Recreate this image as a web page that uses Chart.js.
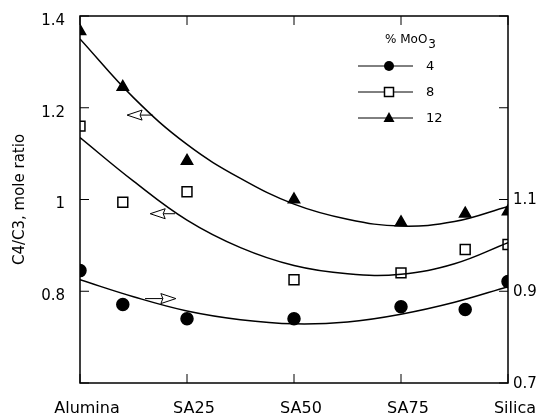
<!DOCTYPE html>
<html>
<head>
<meta charset="utf-8">
<script src="https://cdn.jsdelivr.net/npm/chart.js@4"></script>
<style>
  html, body { margin: 0; padding: 0; background: #fff; }
  #wrap { width: 541px; height: 415px; }
</style>
</head>
<body>
<div id="wrap"><canvas id="myChart" width="541" height="415"></canvas></div>
<script>
// support composition, % silica (Alumina = 0, Silica = 100)
const xPos = [0, 10, 25, 50, 75, 90, 100];
const xTickVals = [0, 25, 50, 75, 100];
const xTickLabels = ['Alumina', 'SA25', 'SA50', 'SA75', 'Silica'];

const leftTicks = [0.6, 0.8, 1.0, 1.2, 1.4];
const leftShown = [0.8, 1.0, 1.2, 1.4];
const rightTicks = [0.7, 0.9, 1.1, 1.3, 1.5];
const rightShown = [0.7, 0.9, 1.1];

// measured C4/C3 ratios (4% on right axis, 8% and 12% on left axis)
const moo4 = [0.945, 0.871, 0.840, 0.840, 0.866, 0.860, 0.921];
const moo8 = [1.160, 0.994, 1.017, 0.825, 0.840, 0.891, 0.902];
const moo12 = [1.367, 1.245, 1.084, 1.000, 0.950, 0.969, 0.974];

// fitted curves at evenly spaced positions
const fitX = [0, 12.5, 25, 37.5, 50, 62.5, 75, 87.5, 100];
const fit4 = [0.925, 0.888, 0.857, 0.838, 0.829, 0.833, 0.850, 0.876, 0.910];
const fit8 = [1.135, 1.040, 0.955, 0.895, 0.856, 0.838, 0.837, 0.860, 0.906];
const fit12 = [1.350, 1.222, 1.120, 1.046, 0.990, 0.957, 0.942, 0.952, 0.985];

const seriesNames = ['4', '8', '12'];

const FONT = 'DejaVu Sans';
const toPts = (xs, arr) => arr.map((v, i) => ({ x: xs[i], y: v }));

const fitLine = (vals, axis) => ({
  data: toPts(fitX, vals),
  yAxisID: axis,
  showLine: true,
  borderColor: '#000',
  borderWidth: 1.5,
  tension: 0.4,
  pointRadius: 0,
  fill: false,
});

const markers = (vals, axis, style, radius, fillColor) => ({
  data: toPts(xPos, vals),
  yAxisID: axis,
  showLine: false,
  pointStyle: style,
  pointRadius: radius,
  pointBackgroundColor: fillColor,
  pointBorderColor: '#000',
  pointBorderWidth: 1.5,
});

// frame and inward ticks
const framePlugin = {
  id: 'frame',
  afterDatasetsDraw(chart) {
    const { ctx, chartArea: a, scales } = chart;
    ctx.save();
    ctx.strokeStyle = '#000';
    ctx.lineWidth = 1.5;
    ctx.strokeRect(a.left, a.top, a.right - a.left, a.bottom - a.top);
    ctx.lineWidth = 1;
    const len = 9;
    xTickVals.forEach((v) => {
      const px = scales.x.getPixelForValue(v);
      ctx.beginPath();
      ctx.moveTo(px, a.bottom); ctx.lineTo(px, a.bottom - len);
      ctx.moveTo(px, a.top); ctx.lineTo(px, a.top + len);
      ctx.stroke();
    });
    leftTicks.forEach((v) => {
      const py = scales.y.getPixelForValue(v);
      ctx.beginPath();
      ctx.moveTo(a.left, py); ctx.lineTo(a.left + len, py);
      ctx.stroke();
    });
    rightTicks.forEach((v) => {
      const py = scales.y2.getPixelForValue(v);
      ctx.beginPath();
      ctx.moveTo(a.right, py); ctx.lineTo(a.right - len, py);
      ctx.stroke();
    });
    ctx.restore();
  },
};

// open arrows telling which axis each curve uses
const arrows = [
  { axis: 'y', from: 17, to: 11, value: 1.184 },
  { axis: 'y', from: 22.2, to: 16.4, value: 0.969 },
  { axis: 'y2', from: 15.2, to: 22.4, value: 0.884 },
];

const arrowPlugin = {
  id: 'arrows',
  afterDatasetsDraw(chart) {
    const { ctx, scales } = chart;
    ctx.save();
    ctx.strokeStyle = '#000';
    ctx.fillStyle = '#fff';
    ctx.lineWidth = 1;
    arrows.forEach((ar) => {
      const y = scales[ar.axis].getPixelForValue(ar.value);
      const x0 = scales.x.getPixelForValue(ar.from);
      const x1 = scales.x.getPixelForValue(ar.to);
      const dir = x1 > x0 ? 1 : -1;
      const headLen = 13;
      const hb = x1 - dir * headLen;
      ctx.beginPath();
      ctx.moveTo(x0, y); ctx.lineTo(hb, y);
      ctx.stroke();
      ctx.beginPath();
      ctx.moveTo(x1, y);
      ctx.lineTo(hb - dir * 2, y - 5);
      ctx.lineTo(hb, y);
      ctx.lineTo(hb - dir * 2, y + 5);
      ctx.closePath();
      ctx.fill();
      ctx.stroke();
    });
    ctx.restore();
  },
};

// legend drawn inside the plot
const legendPlugin = {
  id: 'innerLegend',
  afterDraw(chart) {
    const { ctx } = chart;
    ctx.save();
    ctx.fillStyle = '#000';
    ctx.font = '12px ' + FONT;
    ctx.textBaseline = 'alphabetic';
    ctx.textAlign = 'left';
    ctx.fillText('% MoO', 385, 43);
    const w = ctx.measureText('% MoO').width;
    ctx.fillText('3', 385 + w + 1, 48);

    const rows = [66, 92, 118];
    rows.forEach((ry, i) => {
      ctx.strokeStyle = '#000';
      ctx.lineWidth = 1;
      ctx.beginPath();
      ctx.moveTo(358, ry); ctx.lineTo(413, ry);
      ctx.stroke();
      ctx.lineWidth = 1.5;
      ctx.beginPath();
      if (i === 0) {
        ctx.arc(389, ry, 5, 0, Math.PI * 2);
        ctx.fillStyle = '#000';
        ctx.fill();
      } else if (i === 1) {
        ctx.fillStyle = '#fff';
        ctx.rect(384.5, ry - 4.5, 9, 9);
        ctx.fill();
        ctx.stroke();
      } else {
        ctx.moveTo(389, ry - 6);
        ctx.lineTo(394.5, ry + 4);
        ctx.lineTo(383.5, ry + 4);
        ctx.closePath();
        ctx.fillStyle = '#000';
        ctx.fill();
      }
      ctx.fillStyle = '#000';
      ctx.font = '13px ' + FONT;
      ctx.textBaseline = 'middle';
      ctx.fillText(seriesNames[i], 426, ry + 1);
    });
    ctx.restore();
  },
};

const ctx = document.getElementById('myChart').getContext('2d');
const chart = new Chart(ctx, {
  type: 'scatter',
  data: {
    datasets: [
      fitLine(fit4, 'y2'),
      fitLine(fit8, 'y'),
      fitLine(fit12, 'y'),
      markers(moo4, 'y2', 'circle', 6, '#000'),
      markers(moo8, 'y', 'rect', 7, '#fff'),
      markers(moo12, 'y', 'triangle', 6.5, '#000'),
    ],
  },
  options: {
    responsive: false,
    animation: false,
    layout: { padding: { top: 16, left: 0, right: 0, bottom: 0 } },
    plugins: {
      legend: { display: false },
      tooltip: { enabled: false },
    },
    scales: {
      x: {
        type: 'linear',
        position: 'bottom',
        min: 0,
        max: 100,
        grid: { display: false, drawTicks: false },
        border: { display: false },
        afterBuildTicks: (scale) => { scale.ticks = xTickVals.map((v) => ({ value: v })); },
        afterFit: (scale) => {
          scale.height = 32;
          scale.paddingLeft = 0;
          scale.paddingRight = 0;
        },
        ticks: {
          padding: 16,
          labelOffset: 7,
          maxRotation: 0,
          autoSkip: false,
          color: '#000',
          font: { family: FONT, size: 16 },
          callback: (v) => xTickLabels[xTickVals.indexOf(v)],
        },
      },
      y: {
        type: 'linear',
        position: 'left',
        min: 0.6,
        max: 1.4,
        grid: { display: false, drawTicks: false },
        border: { display: false },
        afterBuildTicks: (scale) => { scale.ticks = leftTicks.map((v) => ({ value: v })); },
        afterFit: (scale) => {
          scale.width = 80;
          scale.paddingTop = 0;
          scale.paddingBottom = 0;
        },
        title: {
          display: true,
          text: 'C4/C3, mole ratio',
          color: '#000',
          font: { family: FONT, size: 15 },
          padding: { top: 11, bottom: 0 },
        },
        ticks: {
          padding: 15,
          labelOffset: 5,
          color: '#000',
          font: { family: FONT, size: 15 },
          callback: (v) => {
            if (!leftShown.some((s) => Math.abs(s - v) < 1e-6)) return '';
            return Math.abs(v - 1) < 1e-6 ? '1' : v.toFixed(1);
          },
        },
      },
      y2: {
        type: 'linear',
        position: 'right',
        min: 0.7,
        max: 1.5,
        grid: { display: false, drawTicks: false },
        border: { display: false },
        afterBuildTicks: (scale) => { scale.ticks = rightTicks.map((v) => ({ value: v })); },
        afterFit: (scale) => {
          scale.width = 33;
          scale.paddingTop = 0;
          scale.paddingBottom = 0;
        },
        ticks: {
          padding: 5,
          labelOffset: 1,
          color: '#000',
          font: { family: FONT, size: 15 },
          callback: (v) => (rightShown.some((s) => Math.abs(s - v) < 1e-6) ? v.toFixed(1) : ''),
        },
      },
    },
  },
  plugins: [framePlugin, arrowPlugin, legendPlugin],
});
</script>
</body>
</html>
